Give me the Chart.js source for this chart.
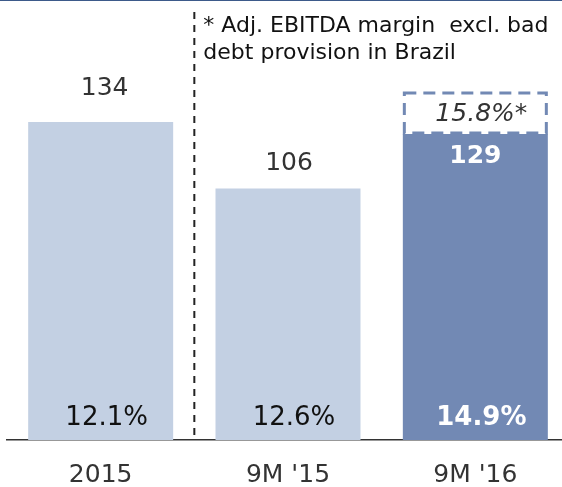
<!DOCTYPE html>
<html>
<head>
<meta charset="utf-8">
<script src="https://cdn.jsdelivr.net/npm/chart.js@4"></script>
<style>
  html, body { margin: 0; padding: 0; background: #fff; overflow: hidden; }
  #wrap { position: relative; width: 569px; height: 487px; }
</style>
</head>
<body>
<div id="wrap"><canvas id="chart"></canvas></div>
<script>
// === DATA ===
const periods = ['2015', "9M '15", "9M '16"];
const ebitda = [134, 106, 129];
const margins = ['12.1%', '12.6%', '14.9%'];
const adjMargin = '15.8%*';
const footnote = ['* Adj. EBITDA margin  excl. bad', 'debt provision in Brazil'];

const LIGHT = '#c3d0e3';
const DARK = '#7289b4';
const FONT = '"DejaVu Sans", Verdana, sans-serif';
const valueLift = [34, 25];   // label gap above the light bars
const valueShift = [4, 1];

// === OVERLAY PLUGIN ===
const overlay = {
    id: 'overlay',
    afterDatasetsDraw(chart) {
        const ctx = chart.ctx;
        const area = chart.chartArea;
        const bars = chart.getDatasetMeta(0).data;
        const x = chart.scales.x;
        ctx.save();

        // top rule
        ctx.fillStyle = '#3d5a8a';
        ctx.fillRect(0, 0, chart.width, 1);

        // dashed divider between full year and 9M
        const divX = (x.getPixelForValue(0) + x.getPixelForValue(1)) / 2;
        ctx.strokeStyle = '#222';
        ctx.lineWidth = 2;
        ctx.setLineDash([7, 6]);
        ctx.beginPath();
        ctx.moveTo(divX, 12);
        ctx.lineTo(divX, area.bottom);
        ctx.stroke();
        ctx.setLineDash([]);

        // footnote
        ctx.fillStyle = '#111';
        ctx.font = '22px ' + FONT;
        ctx.textAlign = 'left';
        ctx.textBaseline = 'middle';
        ctx.fillText(footnote[0], divX + 9, 26);
        ctx.fillText(footnote[1], divX + 9, 53);

        ctx.textAlign = 'center';
        bars.forEach((bar, i) => {
            const last = i === bars.length - 1;
            // value label
            if (last) {
                ctx.fillStyle = '#fff';
                ctx.font = 'bold 25px ' + FONT;
                ctx.fillText(String(ebitda[i]), bar.x, bar.y + 23);
            } else {
                ctx.fillStyle = '#333';
                ctx.font = '25px ' + FONT;
                ctx.fillText(String(ebitda[i]), bar.x + valueShift[i], bar.y - valueLift[i]);
            }
            // margin label at the foot of the bar
            ctx.fillStyle = last ? '#fff' : '#111';
            ctx.font = (last ? 'bold ' : '') + '26px ' + FONT;
            ctx.fillText(margins[i], bar.x + 6, area.bottom - 22);
        });

        // adjusted margin box above the last bar
        const b = bars[bars.length - 1];
        const left = b.x - b.width / 2 + 1.5, right = b.x + b.width / 2 - 1.5;
        ctx.strokeStyle = DARK;
        ctx.lineWidth = 3;
        ctx.setLineDash([12, 7]);
        ctx.strokeRect(left, b.y - 41, right - left, 40);
        ctx.setLineDash([]);
        ctx.fillStyle = '#333';
        ctx.font = 'italic 25px ' + FONT;
        ctx.fillText(adjMargin, b.x + 6, b.y - 19);

        ctx.restore();
    }
};

new Chart(document.getElementById('chart'), {
    type: 'bar',
    data: {
        labels: periods,
        datasets: [{
            data: ebitda,
            backgroundColor: [LIGHT, LIGHT, DARK],
            barPercentage: 0.774,
            categoryPercentage: 1
        }]
    },
    options: {
        responsive: true,
        maintainAspectRatio: false,
        devicePixelRatio: 1,
        animation: false,
        layout: { padding: { left: 7, top: 1, right: 0, bottom: 0 } },
        plugins: { legend: { display: false }, tooltip: { enabled: false } },
        scales: {
            y: { display: false, min: 0, max: 185 },
            x: {
                grid: { display: false, drawTicks: false },
                border: { display: true, color: '#333', width: 1.5 },
                ticks: { color: '#333', font: { family: FONT, size: 25 }, padding: 20 },
                afterFit(scale) { scale.height = 47; }
            }
        }
    },
    plugins: [overlay]
});
</script>
</body>
</html>
